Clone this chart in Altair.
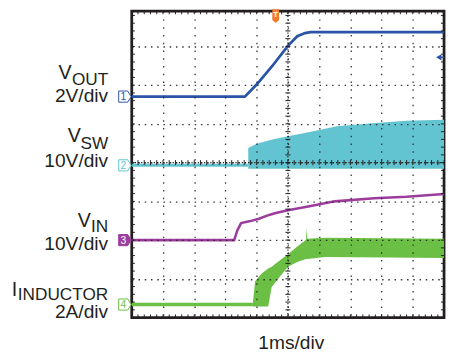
import altair as alt
import pandas as pd
import numpy as np

# ---------------- values ----------------
# time in ms (1 ms/div), 0 = centre graticule line
vout_t = [-5.0, -1.38, -1.0, -0.5, 0.0, 0.3, 0.55, 0.72, 5.0]
vout_v = [0.0, 0.0, 0.62, 1.58, 2.62, 3.12, 3.28, 3.33, 3.33]

vin_t = [-5.0, -1.72, -1.62, -1.5, -1.2, -0.93, -0.6, -0.39, 0.0, 0.65, 1.5, 2.76, 3.8, 5.0]
vin_v = [0.0, 0.0, 2.5, 4.4, 4.9, 5.5, 6.5, 7.0, 7.7, 8.7, 10.0, 10.8, 11.2, 11.9]

vsw_idle_t = [-5.0, -1.27]
vsw_idle_v = [0.0, 0.0]
vsw_t = [-1.27, -1.0, -0.5, 0.0, 0.62, 1.57, 2.7, 3.8, 5.0]
vsw_hi = [4.5, 5.6, 6.7, 7.5, 8.5, 10.1, 10.9, 11.5, 11.8]
vsw_lo = [-0.85, -0.85, -0.85, -0.85, -0.85, -0.85, -0.85, -0.85, -0.85]

il_idle_t = [-5.0, -1.12]
il_idle_v = [0.0, 0.0]
il_t = [-1.12, -1.05, -0.84, -0.63, -0.52, -0.4, 0.0, 0.3, 0.58, 0.6, 0.62, 1.2, 5.0]
il_hi = [0.1, 1.2, 1.6, 1.86, 1.95, 2.1, 2.6, 3.0, 3.35, 3.95, 3.4, 3.45, 3.4]
il_lo = [-0.1, -0.1, -0.1, -0.1, 0.9, 1.15, 1.95, 2.2, 2.35, 2.35, 2.35, 2.45, 2.4]

# channel settings: units per division, ground level (divisions from centre)
CH = {
    "VOUT": dict(per_div=2.0, ground=1.705, color="#2c54a6", num="1"),
    "VSW": dict(per_div=10.0, ground=-0.07, color="#62c4d0", num="2"),
    "VIN": dict(per_div=10.0, ground=-2.0, color="#9c3d9e", num="3"),
    "IL": dict(per_div=2.0, ground=-3.663, color="#6cbf45", num="4"),
}

# ---------------- layout ----------------
W, H = 318, 312
YTOP = 3.911
XS = alt.Scale(domain=[-5, 5], nice=False, zero=False)
YS = alt.Scale(domain=[-4, YTOP], nice=False, zero=False)
FRAME = "#231f20"
XAX = alt.Axis(values=list(range(-4, 5)), grid=True, gridDash=[1.5, 6.4], gridColor=FRAME,
               gridWidth=1.3, gridOpacity=0.9, labels=False, ticks=False, domain=False,
               title=None, zindex=1)
YAX = alt.Axis(values=list(range(-3, 4)), grid=True, gridDash=[1.5, 4.86], gridColor=FRAME,
               gridWidth=1.3, gridOpacity=0.9, labels=False, ticks=False, domain=False,
               title=None, zindex=1)


def X(f="t"):
    return alt.X(f"{f}:Q", scale=XS, axis=XAX)


def Y(f="y"):
    return alt.Y(f"{f}:Q", scale=YS, axis=YAX)


def to_div(vals, ch):
    c = CH[ch]
    return [c["ground"] + v / c["per_div"] for v in vals]


# traces
vout_df = pd.DataFrame({"t": vout_t, "y": to_div(vout_v, "VOUT")})
vin_df = pd.DataFrame({"t": vin_t, "y": to_div(vin_v, "VIN")})
vsw_idle = pd.DataFrame({"t": vsw_idle_t, "y": to_div(vsw_idle_v, "VSW")})
vsw_df = pd.DataFrame({"t": vsw_t, "y": to_div(vsw_hi, "VSW"), "y2": to_div(vsw_lo, "VSW")})
il_idle = pd.DataFrame({"t": il_idle_t, "y": to_div(il_idle_v, "IL")})
il_df = pd.DataFrame({"t": il_t, "y": to_div(il_hi, "IL"), "y2": to_div(il_lo, "IL")})

layers = []
layers.append(alt.Chart(vsw_df).mark_area(color=CH["VSW"]["color"], opacity=1)
              .encode(x=X(), y=Y(), y2="y2:Q"))
layers.append(alt.Chart(vsw_idle).mark_line(color=CH["VSW"]["color"], strokeWidth=3)
              .encode(x=X(), y=Y()))
layers.append(alt.Chart(il_df).mark_area(color=CH["IL"]["color"], opacity=1)
              .encode(x=X(), y=Y(), y2="y2:Q"))
layers.append(alt.Chart(il_idle).mark_line(color=CH["IL"]["color"], strokeWidth=3.5)
              .encode(x=X(), y=Y()))
layers.append(alt.Chart(vin_df).mark_line(color=CH["VIN"]["color"], strokeWidth=2.6)
              .encode(x=X(), y=Y()))
layers.append(alt.Chart(vout_df).mark_line(color=CH["VOUT"]["color"], strokeWidth=2.8)
              .encode(x=X(), y=Y()))

# graticule ticks (centre lines and frame edges, every 0.2 div)
rows = []
for k in np.arange(-4.0, YTOP, 0.2):
    rows.append((-0.08, 0.08, k, k))
    rows.append((-5.0, -4.9, k, k))
    rows.append((4.9, 5.0, k, k))
for k in np.arange(-5.0, 5.01, 0.2):
    rows.append((k, k, -0.065, 0.065))
    rows.append((k, k, -4.0, -3.92))
    rows.append((k, k, YTOP - 0.08, YTOP))
ticks = pd.DataFrame(rows, columns=["t", "t2", "y", "y2"])
layers.append(alt.Chart(ticks).mark_rule(color=FRAME, strokeWidth=1)
              .encode(x=X(), x2="t2:Q", y=Y(), y2="y2:Q"))
centre = pd.DataFrame({"t": [0.0], "t2": [0.0], "y": [-4.0], "y2": [YTOP]})
layers.append(alt.Chart(centre).mark_rule(color=FRAME, strokeWidth=1.2, strokeDash=[1.2, 2.2])
              .encode(x=X(), y=Y(), y2="y2:Q"))
centre_h = pd.DataFrame({"t": [-5.0], "t2": [5.0], "y": [0.0]})
layers.append(alt.Chart(centre_h).mark_rule(color=FRAME, strokeWidth=1.2, strokeDash=[1.2, 2.0])
              .encode(x=X(), x2="t2:Q", y=Y()))

# channel ground markers at the left edge
MARK_T = -5.22
mk = pd.DataFrame({
    "t": [MARK_T] * 4,
    "y": [CH[c]["ground"] for c in CH],
    "col": [CH[c]["color"] for c in CH],
    "fill": ["white", "white", CH["VIN"]["color"], "white"],
    "num": [CH[c]["num"] for c in CH],
    "tcol": [CH["VOUT"]["color"], CH["VSW"]["color"], "white", CH["IL"]["color"]],
})
PENT = "M-1,-0.9 L0.45,-0.9 L1,0 L0.45,0.9 L-1,0.9 Z"
layers.append(alt.Chart(mk).mark_point(shape=PENT, size=160, filled=False, strokeWidth=1, opacity=1)
              .encode(x=X(), y=Y(), stroke=alt.Color("col:N", scale=None),
                      fill=alt.Fill("fill:N", scale=None)))
mk2 = mk.copy()
mk2["t"] = MARK_T - 0.05
layers.append(alt.Chart(mk2).mark_text(font="Liberation Sans", fontSize=10.5, baseline="middle", dy=0.5)
              .encode(x=X(), y=Y(), text="num:N", color=alt.Color("tcol:N", scale=None)))

# trigger marker and reference marker
trig = pd.DataFrame({"t": [-0.39], "y": [3.78], "txt": ["T"]})
TAG = "M-0.5,-1 L0.5,-1 L0.5,0.55 L0,1 L-0.5,0.55 Z"
layers.append(alt.Chart(trig).mark_point(shape=TAG, size=196, filled=True, color="#ef7d2d", opacity=1)
              .encode(x=X(), y=Y()))
layers.append(alt.Chart(trig).mark_text(font="Liberation Sans", fontSize=8, fontWeight="bold",
                                        color="white", baseline="middle", dy=-1)
              .encode(x=X(), y=Y(), text="txt:N"))
ref = pd.DataFrame({"t": [4.83], "t2": [5.0], "y": [2.719]})
layers.append(alt.Chart(ref).mark_rule(color=CH["VOUT"]["color"], strokeWidth=1.5)
              .encode(x=X(), x2="t2:Q", y=Y()))
layers.append(alt.Chart(ref).mark_point(shape="triangle-left", size=40, filled=True,
                                        color=CH["VOUT"]["color"], opacity=1)
              .encode(x=X(), y=Y()))

# text labels (positions in division units, outside the graticule)
TXT = "#231f20"
left_lbl = pd.DataFrame({
    "t": [-7.345, -7.047, -6.732, -8.84],
    "y": [2.154, 0.521, -1.649, -3.434],
    "label": ["V", "V", "V", "I"],
})
layers.append(alt.Chart(left_lbl).mark_text(font="Liberation Sans", fontSize=20, align="left",
                                            baseline="alphabetic", color=TXT)
              .encode(x=X(), y=Y(), text="label:N"))
right_lbl = pd.DataFrame({
    "t": [-5.755] * 8,
    "y": [2.017, 1.561, 0.354, -0.113, -1.801, -2.268, -3.536, -4.0],
    "label": ["OUT", "2V/div", "SW", "10V/div", "IN", "10V/div", "INDUCTOR", "2A/div"],
    "fs": [17.5, 19.5, 17.5, 19.5, 17.5, 19.5, 17.5, 19.5],
})
layers.append(alt.Chart(right_lbl).mark_text(font="Liberation Sans", align="right",
                                             baseline="alphabetic", color=TXT)
              .encode(x=X(), y=Y(), text="label:N", size=alt.Size("fs:Q", scale=None)))
bottom_lbl = pd.DataFrame({"t": [0.11], "y": [-4.804], "label": ["1ms/div"]})
layers.append(alt.Chart(bottom_lbl).mark_text(font="Liberation Sans", fontSize=19.5, align="center",
                                              baseline="alphabetic", color=TXT)
              .encode(x=X(), y=Y(), text="label:N"))

chart = alt.layer(*layers).properties(
    width=W, height=H,
    autosize=alt.AutoSizeParams(type="none"),
    padding={"left": 126, "top": 0, "right": 3, "bottom": 40},
    background="white",
).configure_view(stroke=FRAME, strokeWidth=2.8)

chart.save("out.html", embed_options={"renderer": "svg", "actions": False})
